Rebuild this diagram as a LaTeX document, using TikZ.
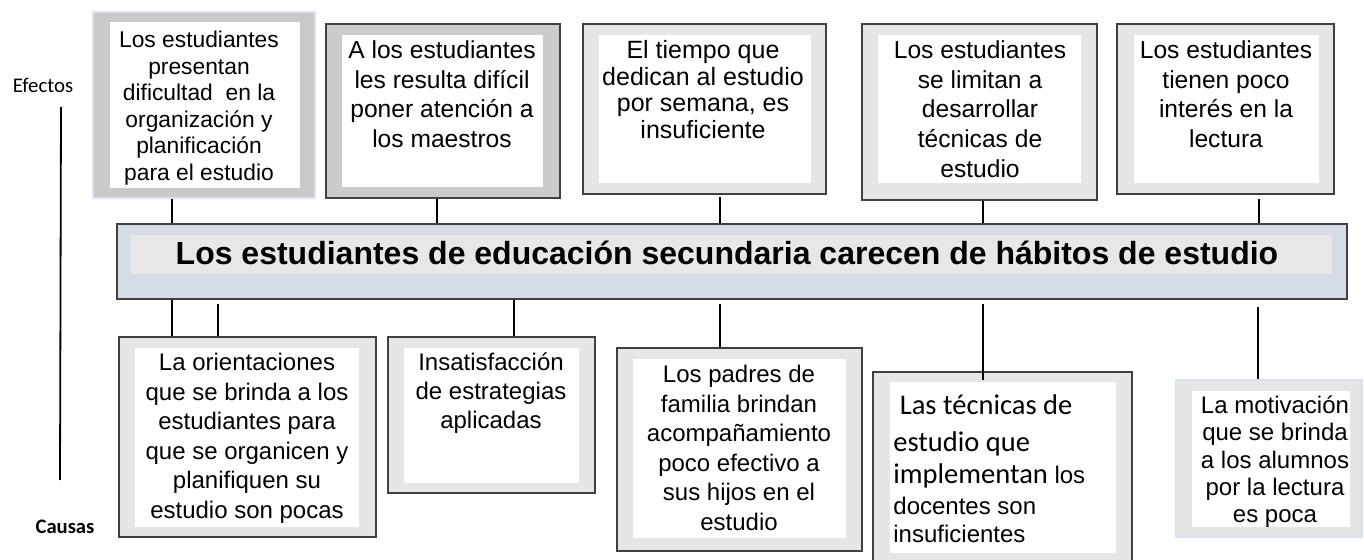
\documentclass[tikz,border=0pt]{standalone}
\usepackage{fontspec}
\setmainfont{Liberation Sans}
\newfontfamily\carlito{Carlito}
\usetikzlibrary{fit}
\definecolor{frameA}{HTML}{C9C9C9}
\definecolor{frameB}{HTML}{CBCBCB}
\definecolor{frameC}{HTML}{E6E6E6}
\definecolor{mainfill}{HTML}{D6DCE5}
\definecolor{band}{HTML}{E7E7E7}
\definecolor{edge}{HTML}{404040}
\definecolor{paleedge}{HTML}{DAE2EF}
\begin{document}
\begin{tikzpicture}[x=0.5pt,y=-0.5pt,
  darkbox/.style={inner sep=0pt, draw=edge, line width=0.6pt},
  palebox/.style={inner sep=0pt, draw=paleedge, line width=0.6pt},
  txt/.style={anchor=north, inner sep=0pt, align=center},
  conn/.style={line width=1pt, draw=black},
  efont/.style={font=\fontsize{12.3}{14.85}\selectfont},
  cfont/.style={font=\fontsize{12}{14.8}\selectfont}]
\useasboundingbox (0,0) rectangle (1364,560);
\clip (0,0) rectangle (1364,560);

% axis labels
\node[font=\carlito\fontsize{10.4}{12}\selectfont, inner sep=0pt] (efectos) at (43,85) {Efectos};
\node[font=\carlito\bfseries\fontsize{10.3}{12}\selectfont, inner sep=0pt] (causas) at (65,527) {Causas};
\coordinate (axtop) at (61,107);
\coordinate (axbot) at (60,480);
\draw[line width=0.9pt] (axtop) -- (axbot);

% ---------- effects ----------
\node[palebox, fill=frameA, fit={(93,12) (315,198)}] (e1) {};
\fill[white] (110,22) rectangle (300,188);
\node[txt, font=\fontsize{11.4}{13.3}\selectfont] (t1) at (199,28.4)
  {\strut Los estudiantes\\presentan\\dificultad~ en la\\organización y\\planificación\\para el estudio};

\node[darkbox, fill=frameB, fit={(326,24) (560,198)}] (e2) {};
\fill[white] (342,35) rectangle (543,187);
\node[txt, font=\fontsize{12.3}{14.85}\selectfont] (t2) at (442,37.2)
  {\strut A los estudiantes\\les resulta difícil\\poner atención a\\los maestros};

\node[darkbox, fill=frameC, fit={(583,24) (826,194)}] (e3) {};
\fill[white] (599,35) rectangle (811,183);
\node[txt, font=\fontsize{12.5}{13.35}\selectfont] (t3) at (703,39.3)
  {\strut El tiempo que\\dedican al estudio\\por semana, es\\insuficiente};

\node[darkbox, fill=frameC, fit={(862,24) (1097,200)}] (e4) {};
\fill[white] (878,35) rectangle (1081,183);
\node[txt, efont] (t4) at (980,37.2)
  {\strut Los estudiantes\\se limitan a\\desarrollar\\técnicas de\\estudio};

\node[darkbox, fill=frameC, fit={(1117,24) (1334,194)}] (e5) {};
\fill[white] (1134,35) rectangle (1319,183);
\node[txt, efont] (t5) at (1226,37.2)
  {\strut Los estudiantes\\tienen poco\\interés en la\\lectura};

% ---------- central problem ----------
\node[darkbox, fill=mainfill, fit={(117,224) (1347,299)}] (main) {};
\fill[band] (130,235) rectangle (1332,274);
\node[anchor=base, inner sep=0pt, font=\bfseries\fontsize{16}{19}\selectfont] (title) at (727,265)
  {Los estudiantes de educación secundaria carecen de hábitos de estudio};

% ---------- causes ----------
\node[darkbox, fill=frameC, fit={(119,337) (376,537)}] (c1) {};
\fill[white] (135,348) rectangle (359,527);
\node[txt, cfont] (s1) at (247,349.3)
  {\strut La orientaciones\\que se brinda a los\\estudiantes para\\que se organicen y\\planifiquen su\\estudio son pocas};

\node[darkbox, fill=frameC, fit={(388,337) (595,493)}] (c2) {};
\fill[white] (404,348) rectangle (579,483);
\node[txt, font=\fontsize{12}{14.5}\selectfont] (s2) at (491,349.7)
  {\strut Insatisfacción\\de estrategias\\aplicadas};

\node[darkbox, fill=frameC, fit={(617,348) (862,551)}] (c3) {};
\fill[white] (633,359) rectangle (846,538);
\node[txt, cfont] (s3) at (739,361.3)
  {\strut Los padres de\\familia brindan\\acompañamiento\\poco efectivo a\\sus hijos en el\\estudio};

\node[darkbox, fill=frameC, fit={(873,372) (1132,566)}] (c4) {};
\fill[white] (890,382) rectangle (1116,553);
\node[anchor=north west, inner sep=0pt, align=left, font=\fontsize{12}{14}\selectfont] (s4) at (893,392)
  {\rule{0pt}{11pt}{\carlito\fontsize{14.25}{14}\selectfont\ Las técnicas de}\\[4.5pt]
   {\carlito\fontsize{14.25}{14}\selectfont estudio que}\\[2pt]
   {\carlito\fontsize{14.25}{14}\selectfont implementan} los\\[1.5pt]
   docentes son\\
   insuficientes};

\node[palebox, fill=frameC, fit={(1176,380) (1362,537)}] (c5) {};
\fill[white] (1192,391) rectangle (1350,527);
\node[txt, font=\fontsize{12}{13.65}\selectfont] (s5) at (1275,393.9)
  {\strut La motivación\\que se brinda\\a los alumnos\\por la lectura\\es poca};

% ---------- connectors ----------
\coordinate (xa) at (172,0);
\coordinate (xb) at (437,0);
\coordinate (xc) at (720,0);
\coordinate (xd) at (983,0);
\coordinate (xe) at (1259,0);
\coordinate (xf) at (218,0);
\coordinate (xg) at (514,0);
\coordinate (xh) at (1258,0);

\draw[conn] (e1.south -| xa) -- (main.north -| xa);
\draw[conn] (e2.south -| xb) -- (main.north -| xb);
\draw[conn] ([yshift=-1pt]e3.south -| xc) -- (main.north -| xc);
\draw[conn] (e4.south -| xd) -- (main.north -| xd);
\draw[conn] ([yshift=-2pt]e5.south -| xe) -- (main.north -| xe);

\draw[conn] (main.south -| xa) -- (c1.north -| xa);
\draw[conn] ([yshift=-2pt]main.south -| xf) -- (c1.north -| xf);
\draw[conn] (main.south -| xg) -- (c2.north -| xg);
\draw[conn] ([yshift=-2pt]main.south -| xc) -- (c3.north -| xc);
\draw[conn] ([yshift=-2pt]main.south -| xd) -- ([yshift=-4.5pt]c4.north -| xd);
\draw[conn] ([yshift=-3.5pt]main.south -| xh) -- (c5.north -| xh);
\end{tikzpicture}
\end{document}
